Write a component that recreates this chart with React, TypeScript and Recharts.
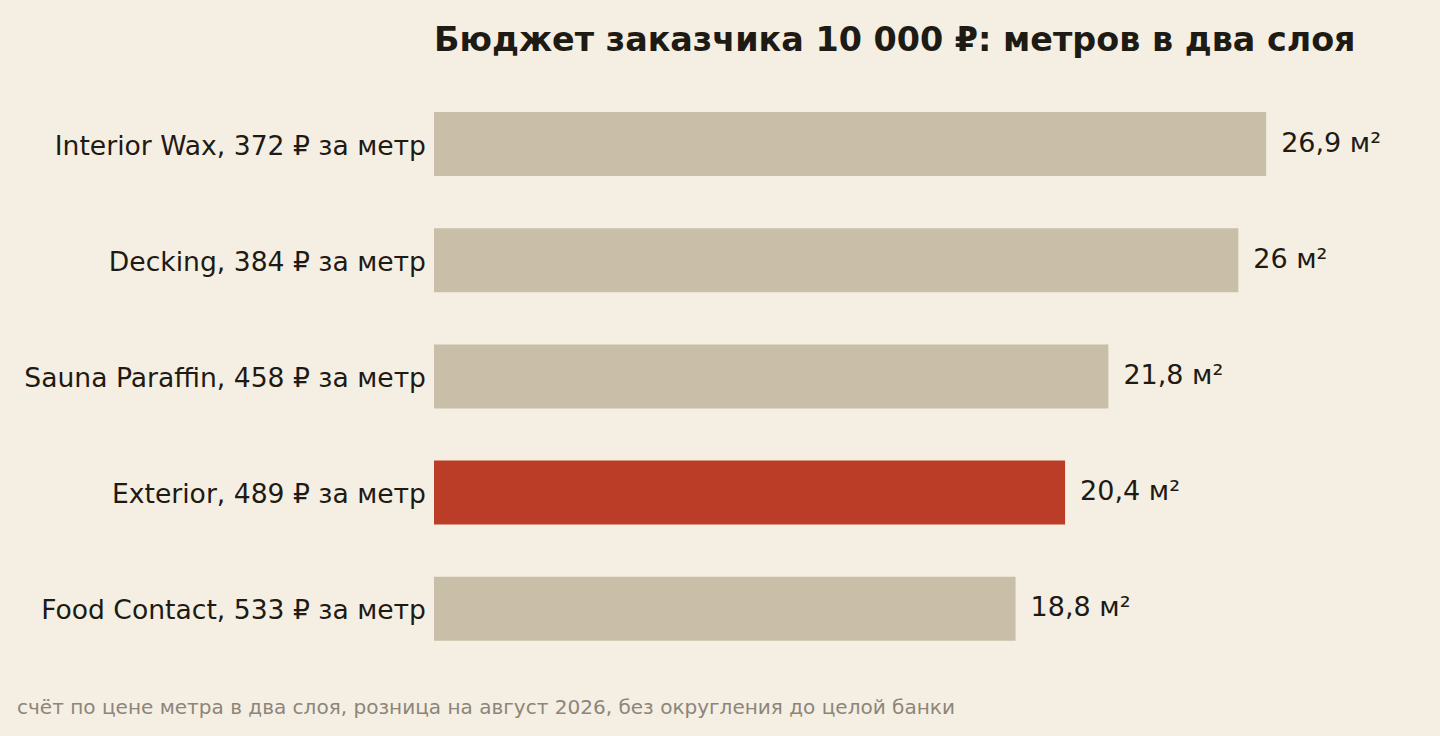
import React from "react";
import { BarChart, Bar, XAxis, YAxis, Cell, LabelList } from "recharts";

const PRODUCTS = ["Interior Wax", "Decking", "Sauna Paraffin", "Exterior", "Food Contact"];
const PRICES = [372, 384, 458, 489, 533];
const AREAS = [26.9, 26, 21.8, 20.4, 18.8];
const HIGHLIGHT = "Exterior";

const TITLE = "Бюджет заказчика 10 000 ₽: метров в два слоя";
const NOTE = "счёт по цене метра в два слоя, розница на август 2026, без округления до целой банки";

const BG = "#F5EFE3";
const BAR = "#C9BFA8";
const RED = "#BB3D27";
const INK = "#1E1A14";
const FONT = "'DejaVu Sans', sans-serif";

const data = PRODUCTS.map((name, i) => ({
  name,
  label: `${name}, ${PRICES[i]} ₽ за метр`,
  area: AREAS[i],
}));

const fmtArea = (v: number) => `${String(v).replace(".", ",")} м²`;

export default function App() {
  return (
    <div
      style={{
        position: "fixed",
        left: 0,
        top: 0,
        width: 1440,
        height: 736,
        background: BG,
        fontFamily: FONT,
      }}
    >
      <BarChart
        layout="vertical"
        width={1440}
        height={736}
        data={data}
        margin={{ top: 86, right: 47, bottom: 69, left: 0 }}
      >
        <XAxis type="number" domain={[0, 31]} hide />
        <YAxis
          type="category"
          dataKey="label"
          width={434}
          axisLine={false}
          tickLine={false}
          tickMargin={2}
          tick={{ fontSize: 26.6, fill: INK, fontFamily: FONT, dy: 1 }}
        />
        <Bar dataKey="area" barSize={64} isAnimationActive={false}>
          {data.map((d) => (
            <Cell key={d.name} fill={d.name === HIGHLIGHT ? RED : BAR} />
          ))}
          <LabelList
            dataKey="area"
            position="right"
            offset={15}
            formatter={(v: any) => fmtArea(Number(v))}
            style={{ fontSize: 27, fill: INK, fontFamily: FONT, transform: "translateY(-2px)" }}
          />
        </Bar>
      </BarChart>
      <svg
        width={1440}
        height={736}
        style={{ position: "absolute", left: 0, top: 0, pointerEvents: "none" }}
      >
        <text x={434} y={51} fontSize={33.4} fontWeight="bold" fill={INK} fontFamily={FONT}>
          {TITLE}
        </text>
        <text x={17} y={714} fontSize={20.05} fill="#8C857A" fontFamily={FONT}>
          {NOTE}
        </text>
      </svg>
    </div>
  );
}
